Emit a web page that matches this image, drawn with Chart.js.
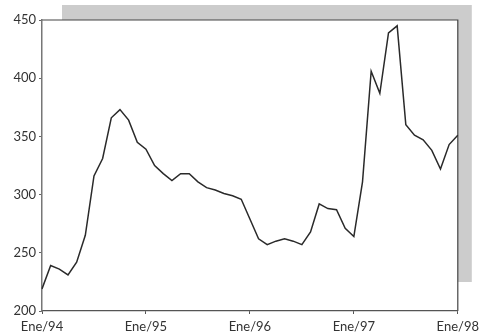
<!DOCTYPE html>
<html>
<head>
<meta charset="utf-8">
<script src="https://cdn.jsdelivr.net/npm/chart.js@4/dist/chart.umd.min.js"></script>
<style>
  html, body { margin: 0; padding: 0; background: #fff; }
  #wrap { width: 484px; height: 336px; }
</style>
</head>
<body>
<div id="wrap"><canvas id="c" width="484" height="336"></canvas></div>
<script>
// Monthly series, January 1994 to January 1998
const monthNames = ['Ene','Feb','Mar','Abr','May','Jun','Jul','Ago','Sep','Oct','Nov','Dic'];
const years = ['94','95','96','97','98'];
const values1994 = [219, 239, 236, 231, 242, 265, 316, 331, 366, 373, 364, 345];
const values1995 = [339, 325, 318, 312, 318, 318, 311, 306, 304, 301, 299, 296];
const values1996 = [279, 262, 257, 260, 262, 260, 257, 268, 292, 288, 287, 271];
const values1997 = [264, 311, 406, 387, 439, 445, 360, 351, 347, 338, 322, 343];
const values1998 = [351];
const yTicks = [200, 250, 300, 350, 400, 450];

const categories = [];
years.forEach((y, yi) => {
  const n = yi === years.length - 1 ? 1 : 12;
  for (let m = 0; m < n; m++) categories.push(monthNames[m] + '/' + y);
});
const series = [].concat(values1994, values1995, values1996, values1997, values1998);

// Frame plugin: offset grey shadow behind the plot, plus top and right border lines
const framePlugin = {
  id: 'frame',
  beforeDraw(chart) {
    const { ctx, chartArea: a } = chart;
    ctx.save();
    ctx.fillStyle = '#cccccc';
    ctx.fillRect(a.left + 20, a.top - 15, (a.right + 14) - (a.left + 20), (a.bottom - 29) - (a.top - 15));
    ctx.fillStyle = '#ffffff';
    ctx.fillRect(a.left, a.top, a.right - a.left, a.bottom - a.top);
    ctx.strokeStyle = '#444';
    ctx.lineWidth = 1.2;
    ctx.beginPath();
    ctx.moveTo(a.left, a.top);
    ctx.lineTo(a.right, a.top);
    ctx.lineTo(a.right, a.bottom);
    ctx.stroke();
    ctx.restore();
  }
};

new Chart(document.getElementById('c'), {
  type: 'line',
  data: {
    labels: categories,
    datasets: [{
      data: series,
      borderColor: '#2a2a2a',
      borderWidth: 1.5,
      pointRadius: 0,
      tension: 0,
      fill: false
    }]
  },
  options: {
    responsive: false,
    animation: false,
    layout: { padding: { top: 20, right: 26, left: 0, bottom: 0 } },
    plugins: { legend: { display: false }, tooltip: { enabled: false } },
    scales: {
      x: {
        type: 'category',
        offset: false,
        afterFit(scale) { scale.height = 25; },
        border: { color: '#555', width: 1.2 },
        grid: {
          drawOnChartArea: false,
          drawTicks: true,
          tickLength: 3,
          color: (c) => (c.index % 12 === 0 ? '#555' : 'rgba(0,0,0,0)')
        },
        ticks: {
          autoSkip: false,
          maxRotation: 0,
          padding: 5,
          color: '#333',
          font: { family: 'Lato', size: 13 },
          callback: (v, i) => (i % 12 === 0 ? categories[i] : '')
        }
      },
      y: {
        min: yTicks[0],
        max: yTicks[yTicks.length - 1],
        afterFit(scale) { scale.width = 42; },
        afterBuildTicks(scale) { scale.ticks = yTicks.map(v => ({ value: v })); },
        border: { color: '#777', width: 1.5 },
        grid: { drawOnChartArea: false, drawTicks: true, tickLength: 3, color: '#666' },
        ticks: {
          padding: 3,
          color: '#333',
          font: { family: 'Lato', size: 13 }
        }
      }
    }
  },
  plugins: [framePlugin]
});
</script>
</body>
</html>
